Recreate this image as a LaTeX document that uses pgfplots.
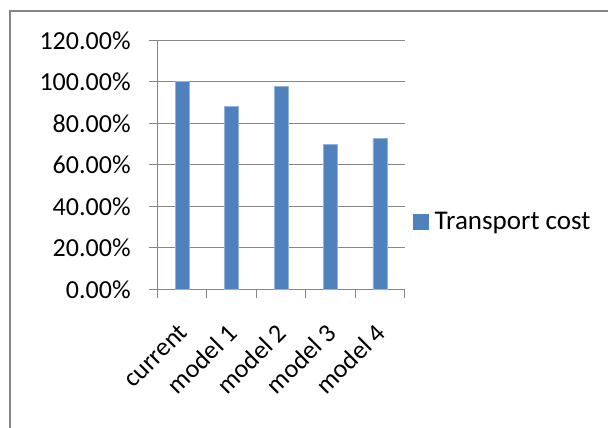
\documentclass[border=0pt]{standalone}
\usepackage{pgfplots}
\pgfplotsset{compat=1.18}
\usepackage{fontspec}
\setmainfont{Carlito}
\definecolor{barblue}{HTML}{4F81BD}
\definecolor{baredge}{HTML}{95B3DA}
\definecolor{gridgray}{HTML}{868686}
\begin{document}
\begin{tikzpicture}
\useasboundingbox (0pt,0pt) rectangle (608pt,428pt);
% chart frame
\draw[gridgray, line width=2.2pt] (10pt,0pt) -- (10pt,417pt) -- (608pt,417pt);
\begin{axis}[
  at={(157.3pt,138.7pt)}, anchor=south west,
  scale only axis, width=247.4pt, height=249pt,
  xmin=-0.5, xmax=4.5, ymin=0, ymax=120,
  axis x line*=bottom, axis y line*=left,
  axis line style={gridgray, line width=1.3pt, -},
  ybar, bar width=14pt,
  ytick={0,20,...,120},
  yticklabels={0.00\%,20.00\%,40.00\%,60.00\%,80.00\%,100.00\%,120.00\%},
  ymajorgrids, grid style={gridgray, line width=1.3pt},
  % category boundaries carry the tick marks
  xtick={-0.5,0.5,...,4.5},
  xticklabels={},
  % category names sit at the bar centres
  extra x ticks={0,1,2,3,4},
  extra x tick labels={current,model 1,model 2,model 3,model 4},
  extra x tick style={major tick length=0pt, grid=none,
    xticklabel style={xshift=1pt, yshift=-39pt, rotate=45, anchor=east, inner sep=0pt}},
  tick align=outside,
  major tick length=8.5pt,
  tick style={gridgray, line width=1.3pt},
  every tick label/.append style={font=\fontsize{26}{31}\selectfont, text=black},
  yticklabel style={anchor=east, inner sep=0pt, xshift=-18pt},
  legend style={at={(1,0.27)}, anchor=west, xshift=8pt, draw=none, fill=none,
    font=\fontsize{27}{32}\selectfont, inner sep=0pt,
    /tikz/every odd column/.append style={column sep=4pt}},
  legend image code/.code={\fill[barblue] (0pt,-7.5pt) rectangle (15pt,7.5pt);},
]
\addplot[fill=barblue, draw=baredge, line width=0.8pt]
  coordinates {(0,100) (1,88.3) (2,97.7) (3,69.9) (4,72.5)};
\addlegendentry{Transport cost}
\end{axis}
\end{tikzpicture}
\end{document}
